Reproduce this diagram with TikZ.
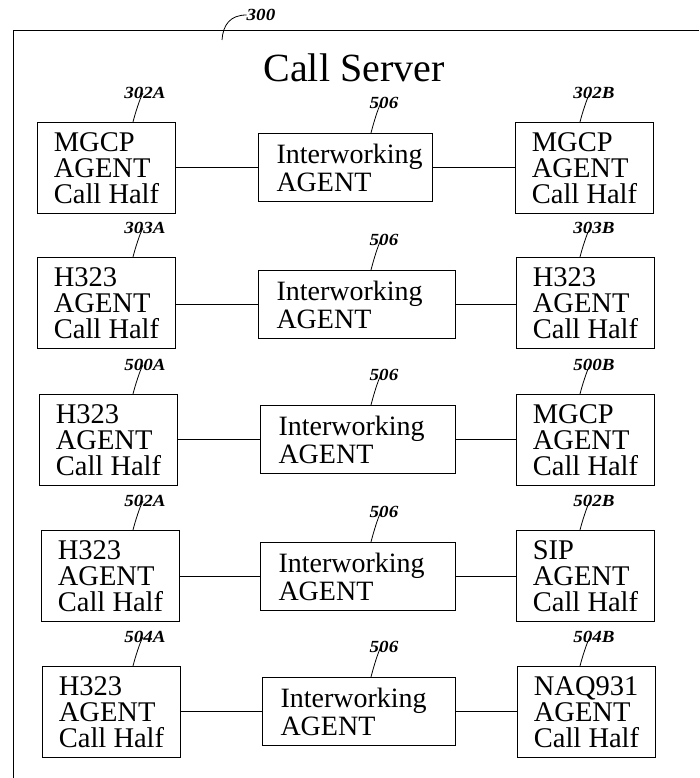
\documentclass[tikz,border=0pt]{standalone}
\usepackage{fontspec}
\setmainfont{Liberation Serif}
\newfontfamily\lblfont[FakeStretch=1.12]{Liberation Serif}
\usetikzlibrary{calc}
\tikzset{
  frameline/.style={line width=1pt},
  halfbox/.style={draw, line width=1pt, anchor=north west, minimum width=138pt, minimum height=91pt,
    inner sep=0pt, align=left, font=\fontsize{28.5}{26}\selectfont},
  iwbox/.style={draw, line width=1pt, anchor=north west, minimum height=68pt,
    inner xsep=18pt, inner ysep=0pt, align=left, font=\fontsize{28}{28}\selectfont},
  reflabel/.style={inner sep=0pt, font=\lblfont\bfseries\itshape\fontsize{17}{17}\selectfont},
  leader/.style={line width=0.8pt},
  link/.style={line width=1pt},
  title/.style={inner sep=0pt, anchor=base, font=\fontsize{40}{40}\selectfont}
}
\begin{document}
\begin{tikzpicture}[x=1pt,y=-1pt]
\useasboundingbox (0,0) rectangle (699,778);
% outer frame
\coordinate (fTR) at (699,31);
\coordinate (fTL) at (13,31);
\coordinate (fBL) at (13,778);
\draw[frameline] (fTR) -- (fTL) -- (fBL);
\node[reflabel] (l300) at (261,15) {300};
\coordinate (c300) at (222,40);
\draw[leader] (l300.west) .. controls (230,15) and (223,25) .. (c300);
\node[title] (title) at (354,82) {Call Server};

% rows
\foreach \r/\lx/\ty/\ixl/\ixr/\ity/\rx/\lt/\rt/\la/\lb in {
  1/37/122/258/432/133/515/MGCP/MGCP/302A/302B,
  2/37/257/258/455/270/516/H323/H323/303A/303B,
  3/39/394/260/455/405/516/H323/MGCP/500A/500B,
  4/41/530/260/455/542/516/H323/SIP/502A/502B,
  5/42/666/262/455/677/517/H323/NAQ931/504A/504B}{
  \pgfmathsetmacro{\tw}{\ixr-\ixl-36}
  \node[halfbox] (L\r) at (\lx,\ty) {\lt\\AGENT\\Call Half};
  \node[halfbox] (R\r) at (\rx,\ty) {\rt\\AGENT\\Call Half};
  \node[iwbox, text width=\tw pt] (I\r) at (\ixl,\ity) {Interworking\\AGENT};
  \draw[link] (L\r.east |- I\r.west) -- (I\r.west);
  \draw[link] (I\r.east) -- (R\r.west |- I\r.east);
  % reference labels
  \node[reflabel] (lL\r) at (145,\ty-29) {\la};
  \node[reflabel] (lR\r) at (594,\ty-29) {\lb};
  \node[reflabel] (lI\r) at (384,\ity-30) {506};
  \coordinate (bL\r) at (133,\ty);
  \coordinate (bR\r) at (580,\ty);
  \coordinate (bI\r) at (371,\ity);
  \draw[leader] (bL\r) .. controls +(2,-8) and +(-3,5) .. ($(lL\r.south)+(-2,-6)$);
  \draw[leader] (bR\r) .. controls +(2,-8) and +(-3,5) .. ($(lR\r.south)+(-4,-6)$);
  \draw[leader] (bI\r) .. controls +(2,-8) and +(-3,5) .. ($(lI\r.south)+(-3,-6)$);
}
\end{tikzpicture}
\end{document}
